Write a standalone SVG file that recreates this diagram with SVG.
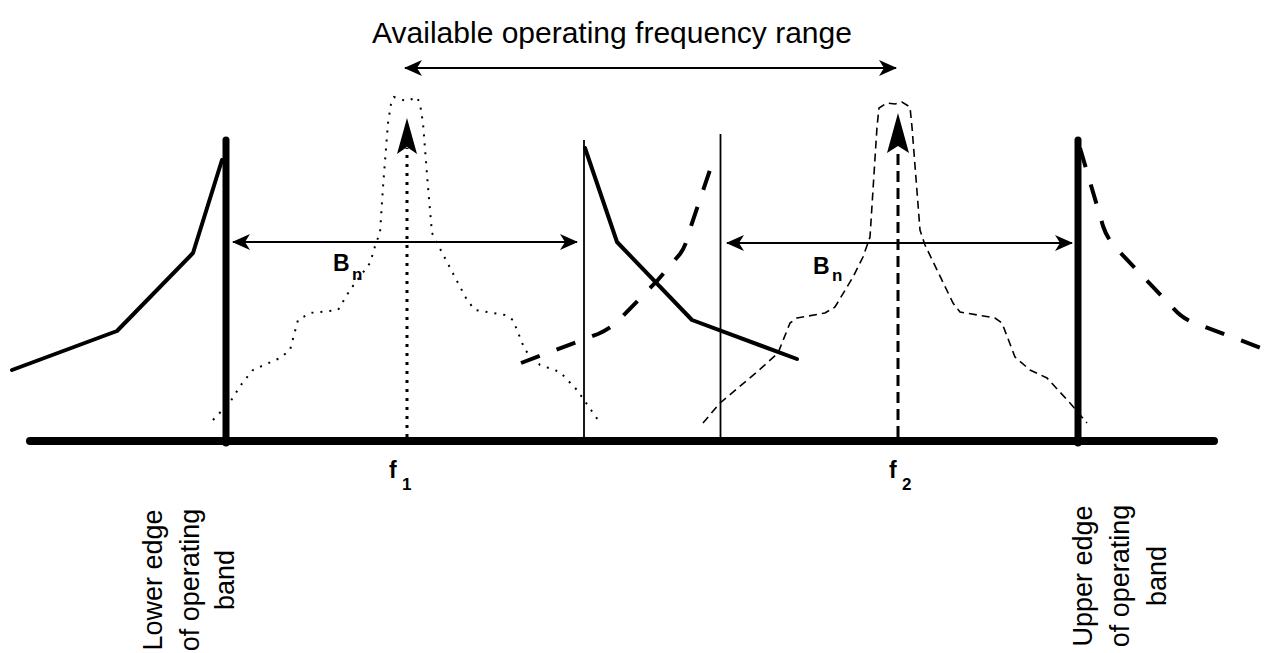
<svg xmlns="http://www.w3.org/2000/svg" width="1269" height="653" viewBox="0 0 1269 653">
<style>
.lbl{font-family:"Liberation Sans",Arial,sans-serif;fill:#000}
.b{font-weight:bold}
.solid{fill:none;stroke:#000;stroke-width:4;stroke-linejoin:round;stroke-linecap:round}
.thickdash{fill:none;stroke:#000;stroke-width:4;stroke-dasharray:20 18}
.dot{fill:none;stroke:#000;stroke-width:2;stroke-dasharray:2 7}
.dash{fill:none;stroke:#000;stroke-width:1.6;stroke-dasharray:8 5}
.arr{fill:none;stroke:#000;stroke-width:2}
</style>
<defs>
<marker id="ah" viewBox="0 0 18 16" refX="17" refY="8" markerWidth="18" markerHeight="16" markerUnits="userSpaceOnUse" orient="auto-start-reverse">
<path d="M0,0 L18,8 L0,16 L5,8 Z" fill="#000"/>
</marker>
</defs>
<rect width="1269" height="653" fill="#fff"/>
<g id="axis">
<line x1="30" y1="441" x2="1214" y2="441" stroke="#000" stroke-width="8" stroke-linecap="round"/>
</g>
<g id="band-edges">
<line x1="226" y1="140" x2="226" y2="443" stroke="#000" stroke-width="7" stroke-linecap="round"/>
<line x1="1078" y1="140" x2="1078" y2="443" stroke="#000" stroke-width="7" stroke-linecap="round"/>
<line x1="584" y1="140" x2="584" y2="438" stroke="#000" stroke-width="1.8"/>
<line x1="720.5" y1="134" x2="720.5" y2="438" stroke="#000" stroke-width="1.8"/>
</g>
<g id="adjacent-solid">
<polyline class="solid" points="12,370 117,331 193,253 222,160"/>
<polyline class="solid" points="585,148 617,242 692,320 797,359"/>
</g>
<g id="adjacent-dashed">
<path class="thickdash" d="M521,363 L598,334 Q612,328 622,317 L657,281 L680,254 Q686,246 689,232 L715,155"/>
<path class="thickdash" d="M1080,148 L1103,226 Q1107,238 1115,247 L1173,308 Q1182,318 1192,322 L1269,351"/>
</g>
<g id="signal-f1">
<polyline class="dot" points="213,420 230,402 243,382 253,370 280,358 290,350 298,320 310,313 338,310 350,290 370,263 376,243 380,233 383,187 388,123 391,104 394,97 400,99 406,101 412,99 417,97 420,104 423,123 428,187 432,233 437,243 467,300 475,310 505,315 513,320 525,350 540,365 560,372 577,390 598,420"/>
<line x1="407" y1="437" x2="407" y2="148" stroke="#000" stroke-width="3" stroke-dasharray="3 6"/>
<path d="M407,118 L417,154 L407,147 L397,154 Z" fill="#000"/>
</g>
<g id="signal-f2">
<polyline class="dash" points="703,423 720,403 757,372 778,353 790,323 797,318 825,313 835,307 853,277 863,257 870,237 877,127 879,108 887,103 895,104 902,102 910,107 912,127 920,230 925,245 953,303 960,312 995,318 1002,323 1015,357 1030,370 1047,378 1070,403 1087,423"/>
<line x1="898" y1="437" x2="898" y2="148" stroke="#000" stroke-width="3" stroke-dasharray="11 6"/>
<path d="M898,113 L909,153 L898,146 L887,153 Z" fill="#000"/>
</g>
<g id="connectors">
<line class="arr" x1="405" y1="68" x2="896" y2="68" marker-start="url(#ah)" marker-end="url(#ah)"/>
<line class="arr" x1="233" y1="242" x2="577" y2="242" marker-start="url(#ah)" marker-end="url(#ah)"/>
<line class="arr" x1="727" y1="243" x2="1072" y2="243" marker-start="url(#ah)" marker-end="url(#ah)"/>
</g>
<g id="labels">
<text class="lbl" x="612" y="43" font-size="30" text-anchor="middle">Available operating frequency range</text>
<text class="lbl b" x="333" y="271" font-size="23">B</text>
<text class="lbl b" x="352" y="280" font-size="17">n</text>
<text class="lbl b" x="813" y="274" font-size="23">B</text>
<text class="lbl b" x="832" y="281" font-size="17">n</text>
<text class="lbl b" x="389" y="478" font-size="23">f</text>
<text class="lbl b" x="402" y="490" font-size="17">1</text>
<text class="lbl b" x="889" y="478" font-size="23">f</text>
<text class="lbl b" x="902" y="490" font-size="17">2</text>
<g transform="rotate(-90)" font-size="27" text-anchor="middle" class="lbl">
<text x="-580" y="162">Lower edge</text>
<text x="-580" y="199">of operating</text>
<text x="-580" y="234">band</text>
<text x="-576" y="1092">Upper edge</text>
<text x="-576" y="1129">of operating</text>
<text x="-576" y="1166">band</text>
</g>
</g>
</svg>
